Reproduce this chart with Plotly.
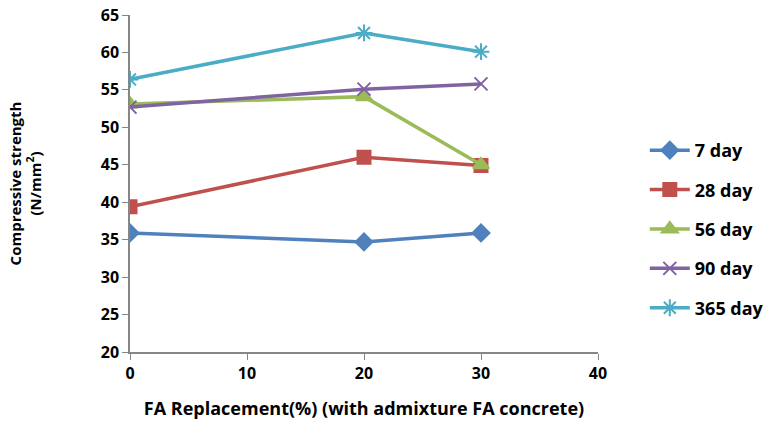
import plotly.graph_objects as go

# FA replacement levels (%)
fa_replacement = [0, 20, 30]

# Compressive strength (N/mm²) by curing age
strength_7 = [35.9, 34.7, 35.9]
strength_28 = [39.4, 46.0, 44.9]
strength_56 = [53.1, 54.1, 45.0]
strength_90 = [52.7, 55.1, 55.8]
strength_365 = [56.4, 62.6, 60.1]

series_names = ["7 day", "28 day", "56 day", "90 day", "365 day"]
series_values = [strength_7, strength_28, strength_56, strength_90, strength_365]
colors = ["#4F81BD", "#C0504D", "#9BBB59", "#8064A2", "#4BACC6"]
symbols = ["diamond", "square", "triangle-up", "x-thin-open", "asterisk-open"]
sizes = [13, 13, 14, 13, 14]

x_ticks = [0, 10, 20, 30, 40]
y_ticks = [20, 25, 30, 35, 40, 45, 50, 55, 60, 65]

FONT = "'Open Sans', sans-serif"


def bold(size):
    return dict(family=FONT, size=size, color="black", weight="bold")


fig = go.Figure()
for i, (name, vals) in enumerate(zip(series_names, series_values)):
    fig.add_trace(go.Scatter(
        x=fa_replacement, y=vals, name=name, mode="lines+markers",
        legendgroup=name,
        line=dict(color=colors[i], width=3.5),
        marker=dict(symbol=symbols[i], size=sizes[i], color=colors[i],
                    line=dict(color=colors[i], width=2)),
    ))

axis_common = dict(
    showgrid=False, zeroline=False, showline=True, linecolor="#868686",
    linewidth=1.5, ticks="outside", tickcolor="#868686", ticklen=6,
    tickfont=bold(16), automargin=False,
)

fig.update_layout(
    width=769, height=425,
    margin=dict(l=130, r=171, t=15, b=73, autoexpand=False),
    plot_bgcolor="white", paper_bgcolor="white",
    font=dict(family=FONT, color="black"),
    xaxis=dict(range=[0, 40], tickvals=x_ticks, **axis_common,
               title=dict(text="FA Replacement(%) (with admixture FA concrete)",
                          font=bold(18), standoff=19)),
    yaxis=dict(range=[20, 65], tickvals=y_ticks, **axis_common,
               title=dict(text="Compressive strength<br>(N/mm<sup>2</sup>)",
                          font=bold(15), standoff=56)),
    legend=dict(x=1.1, xanchor="left", y=0.653, yanchor="top",
                font=bold(18), tracegroupgap=13, itemwidth=40,
                bgcolor="rgba(0,0,0,0)"),
    showlegend=True,
)

fig.write_html("out.html")
